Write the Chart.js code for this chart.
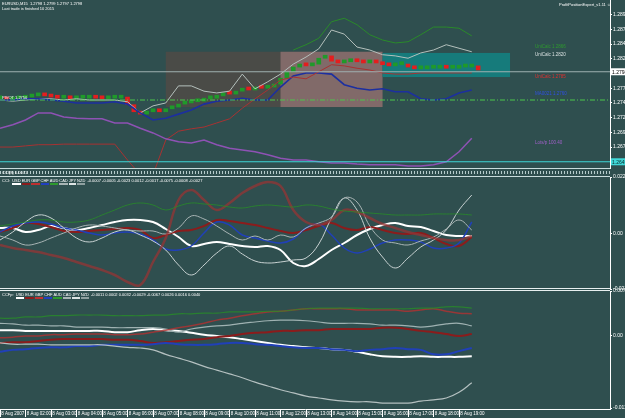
<!DOCTYPE html>
<html>
<head>
<meta charset="utf-8">
<script src="https://cdn.jsdelivr.net/npm/chart.js@4.4.1/dist/chart.umd.min.js"></script>
<style>
  html, body { margin: 0; padding: 0; background: #2f4f4f; }
  #wrap { position: relative; width: 625px; height: 418px; overflow: hidden; background: #2f4f4f;
          font-family: "Liberation Sans", Arial, sans-serif; color: #fff; }
  .pane { position: absolute; left: 0; }
  .txt { position: absolute; font-size: 4px; line-height: 5px; white-space: nowrap; }
  .lbl { font-size: 4.5px; }
  .strip { position: absolute; left: 0; top: 168px; width: 610px; height: 7px;
           border-top: 1px solid #c8dcdc; border-bottom: 1px solid #c8dcdc; }
  .strip .dots { position: absolute; left: 0; right: 0; top: 2px; height: 3px;
           background: repeating-linear-gradient(90deg, rgba(205,225,225,.85) 0 1px, transparent 1px 3px); }
  .sep { position: absolute; left: 0; top: 288px; width: 610px; height: 1px;
         border-top: 1px solid #e8f0f0; border-bottom: 1px solid #e8f0f0; }
  .cur { display: inline-block; margin-right: 1px; border-bottom: 2px solid #fff; line-height: 4px; }
</style>
</head>
<body>
<div id="wrap">
  <canvas id="mainChart" class="pane" width="625" height="170" style="top:0"></canvas>
  <canvas id="cciChart" class="pane" width="625" height="122" style="top:171px"></canvas>
  <canvas id="ccfChart" class="pane" width="625" height="132" style="top:286px"></canvas>

  <div class="strip"><div class="dots"></div></div>
  <div class="sep"></div>

  <div class="txt" style="left:2px;top:1px">EURUSD,M15&nbsp; 1.2798 1.2799 1.2797 1.2798</div>
  <div class="txt" style="left:2px;top:6px">Last trade is finished 10 2015</div>
  <div class="txt" style="left:559px;top:2px">ProfitPositionExpert_v1.11 &#9786;</div>
  <div class="txt" style="left:2px;top:95px">PIVOT 1.2750</div>
  <div class="txt lbl" style="left:535px;top:44px;color:#2e9a2e">UniCalc 1.2866</div>
  <div class="txt lbl" style="left:535px;top:52px;color:#d8e0e0">UniCalc 1.2820</div>
  <div class="txt lbl" style="left:535px;top:74px;color:#e03030">UniCalc 1.2785</div>
  <div class="txt lbl" style="left:535px;top:91px;color:#3050e0">MA0021 1.2760</div>
  <div class="txt lbl" style="left:535px;top:140px;color:#a060c8">Lots/p 100.40</div>

  <div class="txt" style="left:2px;top:170px">CCI(8) 0.0071</div>
  <div class="txt" style="left:2px;top:178px">CCI:&nbsp;
    <span class="cur" style="border-color:#fff">USD</span><span class="cur" style="border-color:#8b1c1c">EUR</span><span class="cur" style="border-color:#c03030">GBP</span><span class="cur" style="border-color:#2040c0">CHF</span><span class="cur" style="border-color:#2e9a2e">AUD</span><span class="cur" style="border-color:#a8b4b4">CAD</span><span class="cur" style="border-color:#dde4e4">JPY</span><span class="cur" style="border-color:#8fa0a0">NZD</span>
    -0.0007 -0.0005 -0.0023 0.0012 -0.0017 -0.0075 -0.0008 -0.0027</div>
  <div class="txt" style="left:2px;top:292px">CCFp:&nbsp;
    <span class="cur" style="border-color:#fff">USD</span><span class="cur" style="border-color:#8b1c1c">EUR</span><span class="cur" style="border-color:#c03030">GBP</span><span class="cur" style="border-color:#2040c0">CHF</span><span class="cur" style="border-color:#2e9a2e">AUD</span><span class="cur" style="border-color:#a8b4b4">CAD</span><span class="cur" style="border-color:#dde4e4">JPY</span><span class="cur" style="border-color:#8fa0a0">NZD</span>
    -0.0011 0.0002 0.0032 -0.0029 -0.0067 0.0026 0.0016 0.0040</div>
</div>

<script>
// time axis: hours from the first bar, one label per hour
const timeLabels = ['8 Aug 2007', '8 Aug 02:00', '8 Aug 03:00', '8 Aug 04:00', '8 Aug 05:00',
  '8 Aug 06:00', '8 Aug 07:00', '8 Aug 08:00', '8 Aug 09:00', '8 Aug 10:00', '8 Aug 11:00',
  '8 Aug 12:00', '8 Aug 13:00', '8 Aug 14:00', '8 Aug 15:00', '8 Aug 16:00', '8 Aug 17:00',
  '8 Aug 18:00', '8 Aug 19:00'];
const BAR_STEP = 0.25;   // M15 bars
const LINE_STEP = 0.5;   // indicator samples
const X_MAX = 23.92;     // visible hours incl. chart shift

// EURUSD M15 closes
const barCloses = [1.2752, 1.2750, 1.2752, 1.2753, 1.2755, 1.2757, 1.2759, 1.2757, 1.2755, 1.2753,
  1.2753, 1.2752, 1.2753, 1.2753, 1.2755, 1.2753, 1.2752, 1.2753, 1.2753, 1.2755,
  1.2742, 1.2730, 1.2726, 1.2730, 1.2733, 1.2730, 1.2735, 1.2738, 1.2743, 1.2745,
  1.2747, 1.2748, 1.2752, 1.2753, 1.2757, 1.2762, 1.2760, 1.2765, 1.2769, 1.2767,
  1.2772, 1.2770, 1.2772, 1.2777, 1.2787, 1.2798, 1.2806, 1.2810, 1.2808, 1.2811,
  1.2821, 1.2825, 1.2816, 1.2813, 1.2815, 1.2816, 1.2815, 1.2813, 1.2815, 1.2813,
  1.2810, 1.2808, 1.2810, 1.2811, 1.2806, 1.2803, 1.2803, 1.2804, 1.2804, 1.2806,
  1.2804, 1.2804, 1.2806, 1.2806, 1.2808, 1.2801];

// main window indicators
const upperGrey = [1.2750, 1.2748, 1.2750, 1.2752, 1.2752, 1.2750, 1.2752, 1.2750, 1.2750, 1.2750,
  1.2747, 1.2728, 1.2740, 1.2745, 1.2774, 1.2774, 1.2765, 1.2762, 1.2765, 1.2794,
  1.2769, 1.2781, 1.2794, 1.2811, 1.2823, 1.2837, 1.2869, 1.2862, 1.2840, 1.2835,
  1.2827, 1.2825, 1.2821, 1.2830, 1.2835, 1.2844, 1.2838, 1.2832];
const upperGreen = [null, null, null, null, null, null, null, null, null, null,
  null, null, null, null, null, null, null, null, null, null,
  null, null, null, 1.2835, 1.2844, 1.2855, 1.2883, 1.2889, 1.2878, 1.2861,
  1.2852, 1.2847, 1.2849, 1.2861, 1.2874, 1.2874, 1.2872, 1.2859];
const maBlue = [1.2750, 1.2750, 1.2752, 1.2752, 1.2750, 1.2748, 1.2745, 1.2745, 1.2745, 1.2747,
  1.2743, 1.2728, 1.2716, 1.2719, 1.2726, 1.2733, 1.2743, 1.2748, 1.2750, 1.2753,
  1.2750, 1.2750, 1.2772, 1.2791, 1.2796, 1.2796, 1.2794, 1.2776, 1.2770, 1.2767,
  1.2769, 1.2764, 1.2764, 1.2752, 1.2750, 1.2752, 1.2762, 1.2767];
const lowerRed = [1.2670, 1.2670, 1.2672, 1.2674, 1.2674, 1.2675, 1.2675, 1.2675, 1.2675, 1.2675,
  1.2648, 1.2623, 1.2623, 1.2682, 1.2697, 1.2701, 1.2704, 1.2711, 1.2718, 1.2736,
  1.2752, 1.2767, 1.2784, 1.2789, 1.2786, 1.2798, 1.2810, 1.2808, 1.2804, 1.2801,
  1.2796, 1.2794, 1.2794, 1.2796, 1.2796, 1.2796, 1.2796, 1.2796];
const lotsPurple = [1.2702, 1.2708, 1.2716, 1.2728, 1.2728, 1.2721, 1.2719, 1.2718, 1.2718, 1.2711,
  1.2711, 1.2702, 1.2694, 1.2684, 1.2679, 1.2677, 1.2682, 1.2674, 1.2668, 1.2665,
  1.2662, 1.2657, 1.2651, 1.2648, 1.2648, 1.2645, 1.2643, 1.2643, 1.2641, 1.2640,
  1.2640, 1.2640, 1.2638, 1.2638, 1.2640, 1.2645, 1.2662, 1.2685];

const priceTicks = [1.2645, 1.2670, 1.2695, 1.2720, 1.2745, 1.2770, 1.2795, 1.2820, 1.2845, 1.2870, 1.2895];
const bidPrice = 1.2798;
const pivotPrice = 1.2750;
const levelPrice = 1.2645;

// session boxes (hours / prices)
const boxStart = [6.5, 11, 15];
const boxEnd = [15, 15, 20];
const boxLow = [1.2738, 1.2738, 1.2789];
const boxHigh = [1.2832, 1.2832, 1.2830];

// CCI window
const cciUSD = [0.0023, 0.0023, 0.0007, 0.0015, 0.0031, 0.0023, 0.0015, 0.0023, 0.0035, 0.0047,
  0.0055, 0.0055, 0.0047, 0.0019, -0.0013, -0.0049, -0.0041, -0.0033, -0.0041, -0.0049,
  -0.0053, -0.0049, -0.0065, -0.0117, -0.0129, -0.0101, -0.0065, -0.0037, -0.0005, 0.0019,
  0.0035, 0.0043, 0.0031, 0.0027, 0.0011, -0.0005, -0.0009, -0.0009];
const cciEUR = [0.0007, 0.0023, 0.0043, 0.0039, 0.0027, 0.0011, 0.0007, 0.0011, 0.0015, 0.0019,
  0.0023, 0.0015, -0.0017, -0.0005, 0.0011, 0.0015, 0.0031, 0.0055, 0.0051, 0.0043,
  0.0035, 0.0023, 0.0011, 0.0003, 0.0015, 0.0031, 0.0043, 0.0023, 0.0015, 0.0027,
  0.0015, 0.0003, -0.0001, 0.0003, -0.0017, -0.0041, -0.0049, -0.0013];
const cciGBP = [-0.0045, -0.0057, -0.0065, -0.0073, -0.0085, -0.0097, -0.0113, -0.0129, -0.0145, -0.0165,
  -0.0193, -0.0205, -0.0113, -0.0017, 0.0135, 0.0175, 0.0135, 0.0095, 0.0123, 0.0163,
  0.0191, 0.0207, 0.0191, 0.0095, 0.0047, 0.0035, 0.0055, 0.0095, 0.0087, 0.0063,
  0.0039, 0.0023, 0.0007, -0.0005, -0.0017, -0.0025, -0.0025, -0.0009];
const cciCHF = [0.0007, 0.0031, 0.0043, 0.0047, 0.0039, 0.0023, 0.0015, 0.0003, -0.0005, 0.0003,
  0.0007, -0.0001, -0.0025, -0.0061, -0.0065, -0.0049, 0.0003, 0.0047, 0.0035, -0.0005,
  -0.0017, -0.0029, -0.0037, -0.0021, 0.0023, 0.0039, -0.0005, -0.0057, -0.0077, -0.0061,
  -0.0037, -0.0025, -0.0025, -0.0033, -0.0057, -0.0057, -0.0037, 0.0047];
const cciAUD = [0.0031, 0.0039, 0.0047, 0.0055, 0.0055, 0.0047, 0.0047, 0.0055, 0.0075, 0.0095,
  0.0115, 0.0123, 0.0115, 0.0095, 0.0111, 0.0123, 0.0119, 0.0115, 0.0107, 0.0103,
  0.0111, 0.0115, 0.0111, 0.0107, 0.0115, 0.0111, 0.0099, 0.0091, 0.0087, 0.0083,
  0.0079, 0.0075, 0.0075, 0.0075, 0.0079, 0.0079, 0.0079, 0.0075];
const cciCAD = [-0.0009, -0.0025, -0.0045, -0.0037, -0.0017, 0.0003, 0.0023, 0.0035, 0.0031, 0.0023,
  0.0015, 0.0011, 0.0011, -0.0001, 0.0023, 0.0071, 0.0059, 0.0031, -0.0001, -0.0025,
  -0.0009, -0.0025, -0.0005, -0.0013, 0.0023, 0.0043, 0.0067, 0.0143, 0.0127, 0.0031,
  -0.0025, -0.0037, -0.0045, -0.0029, -0.0013, 0.0019, 0.0055, 0.0015];
const cciJPY = [-0.0025, 0.0007, 0.0047, 0.0075, 0.0063, 0.0023, -0.0017, -0.0033, -0.0017, 0.0007,
  0.0015, -0.0005, -0.0029, -0.0065, -0.0125, -0.0165, -0.0125, -0.0077, -0.0049, -0.0081,
  -0.0109, -0.0117, -0.0113, -0.0105, -0.0097, -0.0041, 0.0063, 0.0143, 0.0095, -0.0017,
  -0.0093, -0.0137, -0.0097, -0.0053, -0.0025, 0.0015, 0.0095, 0.0155];
const cciTicks = [0.0227, 0, -0.0221];

// CCFp window
const ccfUSD = [0.0009, 0.0009, 0.0008, 0.0008, 0.0008, 0.0008, 0.0008, 0.0008, 0.0008, 0.0006,
  0.0006, 0.0009, 0.0011, 0.0009, 0.0008, 0.0005, 0.0002, 0.0000, -0.0002, -0.0005,
  -0.0008, -0.0011, -0.0014, -0.0016, -0.0018, -0.0019, -0.0021, -0.0022, -0.0025, -0.0029,
  -0.0032, -0.0033, -0.0033, -0.0032, -0.0033, -0.0033, -0.0033, -0.0032];
const ccfNZD = [0.0020, 0.0019, 0.0017, 0.0017, 0.0016, 0.0016, 0.0014, 0.0014, 0.0014, 0.0013,
  0.0013, 0.0013, 0.0013, 0.0011, 0.0006, 0.0011, 0.0014, 0.0016, 0.0017, 0.0020,
  0.0022, 0.0024, 0.0025, 0.0025, 0.0024, 0.0022, 0.0020, 0.0020, 0.0020, 0.0019,
  0.0017, 0.0017, 0.0016, 0.0014, 0.0016, 0.0019, 0.0020, 0.0016];
const ccfEUR = [-0.0011, -0.0010, -0.0010, -0.0008, -0.0006, -0.0005, -0.0005, -0.0005, -0.0005, -0.0006,
  -0.0006, -0.0008, -0.0011, -0.0010, -0.0008, -0.0006, -0.0005, -0.0002, 0.0000, 0.0003,
  0.0005, 0.0006, 0.0008, 0.0008, 0.0009, 0.0009, 0.0011, 0.0011, 0.0011, 0.0011,
  0.0013, 0.0013, 0.0011, 0.0008, 0.0006, 0.0003, 0.0000, 0.0003];
const ccfGBP = [-0.0003, -0.0002, 0.0000, 0.0000, 0.0002, 0.0002, 0.0003, 0.0003, 0.0003, 0.0002,
  0.0002, 0.0003, 0.0006, 0.0009, 0.0013, 0.0016, 0.0020, 0.0025, 0.0028, 0.0032,
  0.0035, 0.0038, 0.0039, 0.0041, 0.0043, 0.0043, 0.0043, 0.0043, 0.0041, 0.0041,
  0.0041, 0.0041, 0.0039, 0.0041, 0.0043, 0.0039, 0.0036, 0.0035];
const ccfAUD = [0.0028, 0.0028, 0.0030, 0.0030, 0.0032, 0.0032, 0.0033, 0.0033, 0.0033, 0.0032,
  0.0032, 0.0032, 0.0033, 0.0033, 0.0035, 0.0035, 0.0036, 0.0036, 0.0038, 0.0038,
  0.0038, 0.0039, 0.0039, 0.0041, 0.0043, 0.0044, 0.0044, 0.0044, 0.0044, 0.0043,
  0.0043, 0.0043, 0.0043, 0.0044, 0.0044, 0.0046, 0.0046, 0.0044];
const ccfCHF = [-0.0025, -0.0022, -0.0021, -0.0019, -0.0018, -0.0018, -0.0016, -0.0016, -0.0014, -0.0014,
  -0.0014, -0.0014, -0.0013, -0.0011, -0.0013, -0.0014, -0.0014, -0.0013, -0.0011, -0.0011,
  -0.0013, -0.0014, -0.0016, -0.0018, -0.0019, -0.0019, -0.0021, -0.0022, -0.0024, -0.0022,
  -0.0021, -0.0019, -0.0021, -0.0022, -0.0029, -0.0029, -0.0024, -0.0019];
const ccfJPY = [-0.0011, -0.0013, -0.0013, -0.0013, -0.0014, -0.0014, -0.0014, -0.0014, -0.0014, -0.0016,
  -0.0018, -0.0019, -0.0022, -0.0029, -0.0035, -0.0041, -0.0048, -0.0054, -0.0060, -0.0066,
  -0.0073, -0.0079, -0.0085, -0.0090, -0.0095, -0.0098, -0.0101, -0.0103, -0.0104, -0.0104,
  -0.0106, -0.0106, -0.0106, -0.0103, -0.0101, -0.0098, -0.0089, -0.0074];
const ccfTicks = [0.0071, 0, -0.0114];

const FONT = { family: 'Liberation Sans', size: 5 };
const points = (arr, step) => arr.map((v, i) => ({ x: i * step, y: v }));
const flat = (v) => [{ x: 0, y: v }, { x: X_MAX, y: v }];

function line(data, color, width, extra) {
  return Object.assign({ type: 'line', data: data, borderColor: color, borderWidth: width,
    pointRadius: 0, fill: false, tension: 0 }, extra || {});
}

function rightAxis(min, max, ticks, fmt) {
  return {
    position: 'right', min: min, max: max,
    afterBuildTicks: s => { s.ticks = ticks.map(v => ({ value: v })); },
    afterFit: s => { s.width = 15; s.paddingTop = 0; s.paddingBottom = 0; },
    border: { color: '#ffffff', width: 1 },
    grid: { drawOnChartArea: false, color: '#ffffff', tickLength: 2 },
    ticks: { color: '#ffffff', font: FONT, padding: 1, callback: fmt }
  };
}

const hiddenX = { type: 'linear', min: 0, max: X_MAX, display: false };
const baseOpts = { responsive: false, animation: false, events: [],
  plugins: { legend: { display: false }, tooltip: { enabled: false } } };

const boxColors = ['rgba(78,74,70,0.9)', 'rgba(140,112,112,0.85)', 'rgba(20,128,128,0.9)'];
const boxPlugin = {
  id: 'boxes',
  beforeDatasetsDraw(chart) {
    const { ctx, chartArea: a, scales: { x, y } } = chart;
    ctx.save();
    ctx.beginPath(); ctx.rect(a.left, a.top, a.width, a.height); ctx.clip();
    boxStart.forEach((s, i) => {
      const x0 = x.getPixelForValue(s), x1 = x.getPixelForValue(boxEnd[i]);
      const y0 = y.getPixelForValue(boxHigh[i]), y1 = y.getPixelForValue(boxLow[i]);
      ctx.fillStyle = boxColors[i];
      ctx.fillRect(x0, y0, x1 - x0, y1 - y0);
    });
    ctx.restore();
  }
};
const tagPlugin = {
  id: 'tags',
  afterDraw(chart) {
    const { ctx, chartArea: a, scales: { y } } = chart;
    [[bidPrice, '#ffffff', '#000000'], [levelPrice, '#40d8d8', '#0a2a2a']].forEach(([v, bg, fg]) => {
      const py = y.getPixelForValue(v);
      ctx.fillStyle = bg; ctx.fillRect(a.right + 1, py - 3.5, 15, 7);
      ctx.fillStyle = fg; ctx.font = '5px "Liberation Sans"'; ctx.textBaseline = 'middle';
      ctx.fillText(v.toFixed(4), a.right + 2, py + 0.5);
    });
  }
};

const candleColor = c => {
  const i = c.dataIndex, prev = i ? barCloses[i - 1] : barCloses[i];
  return barCloses[i] >= prev ? '#1f9a2a' : '#e41e1e';
};

new Chart(document.getElementById('mainChart'), {
  type: 'line',
  data: { datasets: [
    line(flat(levelPrice), '#3fd6d6', 1),
    line(flat(bidPrice), '#9fb0b0', 1),
    line(flat(pivotPrice), '#4cc84c', 1, { borderDash: [5, 2, 1, 2] }),
    line(points(lotsPurple, LINE_STEP), '#8e52b4', 1.5),
    line(points(lowerRed, LINE_STEP), '#a83232', 1),
    line(points(maBlue, LINE_STEP), '#1c2fa0', 1.6),
    line(points(upperGreen, LINE_STEP), '#2a8a2a', 1),
    line(points(upperGrey, LINE_STEP), '#b4c0bc', 1),
    { type: 'bar', data: barCloses.map((c, i) => ({ x: i * BAR_STEP, y: [i ? barCloses[i - 1] : c, c] })),
      backgroundColor: candleColor, barThickness: 4, minBarLength: 3, borderWidth: 0 }
  ] },
  options: Object.assign({}, baseOpts, {
    layout: { padding: { top: 0, bottom: 2, left: 0, right: 0 } },
    scales: { x: Object.assign({}, hiddenX, { offset: false }),
      y: rightAxis(1.26344, 1.2920, priceTicks, v => v.toFixed(4)) }
  }),
  plugins: [boxPlugin, tagPlugin]
});

const smooth = { tension: 0.4 };
new Chart(document.getElementById('cciChart'), {
  type: 'line',
  data: { datasets: [
    line(points(cciAUD, LINE_STEP), 'rgba(40,140,40,0.8)', 1, smooth),
    line(points(cciGBP, LINE_STEP), 'rgba(150,52,52,0.75)', 2.5, smooth),
    line(points(cciCAD, LINE_STEP), '#a8b4b4', 1, smooth),
    line(points(cciJPY, LINE_STEP), '#c8d2d2', 1, smooth),
    line(points(cciCHF, LINE_STEP), '#2040b8', 1.5, smooth),
    line(points(cciEUR, LINE_STEP), '#8b1c1c', 2, smooth),
    line(points(cciUSD, LINE_STEP), '#ffffff', 2, smooth)
  ] },
  options: Object.assign({}, baseOpts, {
    layout: { padding: { top: 6, bottom: 4, left: 0, right: 0 } },
    scales: { x: hiddenX,
      y: rightAxis(-0.0221, 0.0227, cciTicks, v => v === 0 ? '0.00' : v.toFixed(4)) }
  })
});

new Chart(document.getElementById('ccfChart'), {
  type: 'line',
  data: { datasets: [
    line(points(ccfAUD, LINE_STEP), 'rgba(40,140,40,0.8)', 1.2, smooth),
    line(points(ccfGBP, LINE_STEP), 'rgba(170,50,50,0.85)', 1.5, smooth),
    line(points(ccfNZD, LINE_STEP), '#9fb2b2', 1.2, smooth),
    line(points(ccfJPY, LINE_STEP), '#b4c0c0', 1.2, smooth),
    line(points(ccfCHF, LINE_STEP), '#2040b8', 2, smooth),
    line(points(ccfEUR, LINE_STEP), '#8b1c1c', 2, smooth),
    line(points(ccfUSD, LINE_STEP), '#ffffff', 2, smooth)
  ] },
  options: Object.assign({}, baseOpts, {
    layout: { padding: { top: 5, bottom: 0, left: 0, right: 0 } },
    scales: {
      x: { type: 'linear', min: 0, max: X_MAX, position: 'bottom',
        afterBuildTicks: s => { s.ticks = timeLabels.map((t, i) => ({ value: i })); },
        afterFit: s => { s.height = 9; s.paddingLeft = 0; s.paddingRight = 0; },
        border: { color: '#ffffff', width: 1 },
        grid: { drawOnChartArea: false, color: '#ffffff', tickLength: 8 },
        ticks: { color: '#ffffff', font: { family: 'Liberation Sans', size: 4.5 }, align: 'start',
          maxRotation: 0, autoSkip: false, padding: -6, callback: v => ' ' + timeLabels[v] } },
      y: rightAxis(-0.01154, 0.0071, ccfTicks, v => v === 0 ? '0.00' : v.toFixed(4))
    }
  })
});
</script>
</body>
</html>
